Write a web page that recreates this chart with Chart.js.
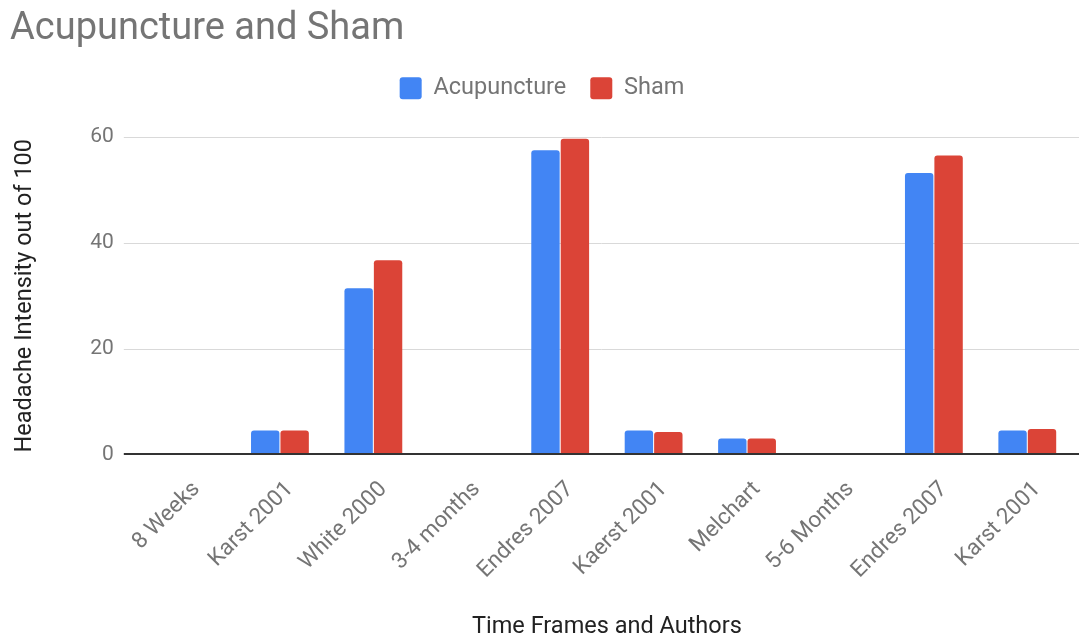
<!DOCTYPE html>
<html><head><meta charset="utf-8">
<script src="https://cdn.jsdelivr.net/npm/chart.js@4"></script>
<style>html,body{margin:0;padding:0;background:#fff}#wrap{width:1079px;height:641px;position:relative}</style>
</head><body><div id="wrap"><canvas id="c"></canvas></div>
<script>
const categories = ['8 Weeks','Karst 2001','White 2000','3-4 months','Endres 2007','Kaerst 2001','Melchart','5-6 Months','Endres 2007','Karst 2001'];
const acupuncture = [null, 4.5, 31.4, null, 57.5, 4.5, 3.0, null, 53.2, 4.5];
const sham = [null, 4.5, 36.7, null, 59.7, 4.2, 3.0, null, 56.5, 4.8];
const yTicks = [0, 20, 40, 60];

const gridPlugin = {
  id: 'extGrid',
  beforeDatasetsDraw(chart) {
    const {ctx, scales: {y}, chartArea} = chart;
    ctx.save();
    y.ticks.forEach(t => {
      if (t.value === 0) return;
      const py = Math.round(y.getPixelForValue(t.value)) + 0.5;
      ctx.strokeStyle = '#d9d9d9';
      ctx.lineWidth = 1;
      ctx.beginPath(); ctx.moveTo(chartArea.left - 16, py); ctx.lineTo(chart.width, py); ctx.stroke();
    });
    ctx.restore();
  },
  afterDatasetsDraw(chart) {
    const {ctx, scales: {y}, chartArea} = chart;
    const py = Math.round(y.getPixelForValue(0));
    ctx.save();
    ctx.strokeStyle = '#333';
    ctx.lineWidth = 2;
    ctx.beginPath(); ctx.moveTo(chartArea.left - 16, py); ctx.lineTo(chart.width, py); ctx.stroke();
    ctx.restore();
  }
};

const legendMargin = {
  id: 'legendMargin',
  beforeInit(chart) {
    const orig = chart.legend.fit;
    chart.legend.fit = function () { orig.bind(chart.legend)(); this.height += 27; };
  }
};

new Chart(document.getElementById('c'), {
  type: 'bar',
  data: {
    labels: categories,
    datasets: [
      {label: 'Acupuncture', data: acupuncture, backgroundColor: '#4285F4', borderRadius: {topLeft: 3, topRight: 3}, borderSkipped: 'bottom'},
      {label: 'Sham', data: sham, backgroundColor: '#DB4437', borderRadius: {topLeft: 3, topRight: 3}, borderSkipped: 'bottom'}
    ]
  },
  options: {
    responsive: true,
    maintainAspectRatio: false,
    animation: false,
    datasets: {bar: {categoryPercentage: 0.63, barPercentage: 0.965}},
    layout: {padding: {left: 10, right: 5, top: 0, bottom: 0}},
    plugins: {
      title: {display: true, text: 'Acupuncture and Sham', align: 'start', color: '#757575',
        font: {family: 'Roboto', size: 38, weight: 'normal'}, padding: {top: 7, bottom: 0}},
      legend: {position: 'top', align: 'center',
        labels: {font: {family: 'Roboto', size: 23.5}, color: '#757575', boxWidth: 22, boxHeight: 22,
          useBorderRadius: true, borderRadius: 3, padding: 24}},
      tooltip: {enabled: false}
    },
    scales: {
      x: {
        grid: {display: false}, border: {display: false},
        ticks: {autoSkip: false, minRotation: 45, maxRotation: 45, color: '#757575',
          font: {family: 'Roboto', size: 22.5}, padding: 14, labelOffset: 10},
        title: {display: true, text: 'Time Frames and Authors', color: '#222',
          font: {family: 'Roboto', size: 23.5}, padding: {top: 15, bottom: 0}}
      },
      y: {
        min: 0, max: 60,
        grid: {display: false}, border: {display: false},
        afterBuildTicks: (axis) => { axis.ticks = yTicks.map(v => ({value: v})); },
        ticks: {color: '#757575', font: {family: 'Roboto', size: 21}, padding: 18},
        title: {display: true, text: 'Headache Intensity out of 100', color: '#222',
          font: {family: 'Roboto', size: 23.5}, padding: {top: 1, bottom: 33}}
      }
    }
  },
  plugins: [gridPlugin, legendMargin]
});
</script>
</body></html>
